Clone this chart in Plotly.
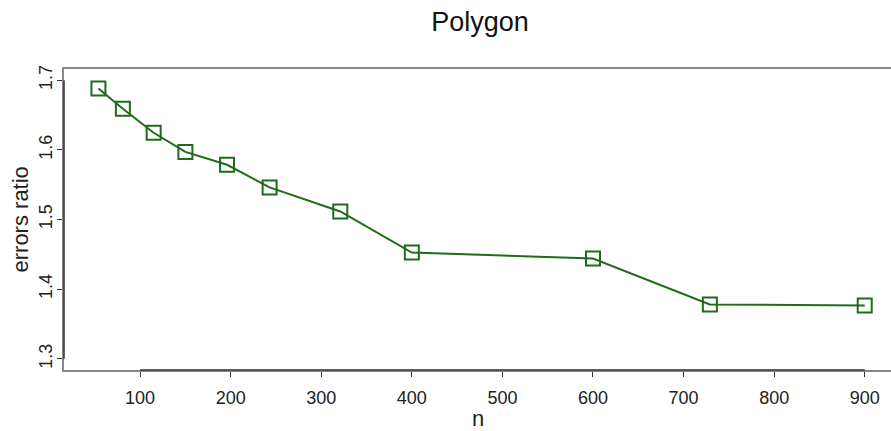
import plotly.graph_objects as go

n_values = [54, 81, 115, 150, 196, 243, 321, 400, 600, 729, 900]
error_ratio = [1.688, 1.659, 1.6245, 1.597, 1.5785, 1.546, 1.5115, 1.4526, 1.444, 1.378, 1.3765]
x_ticks = [100, 200, 300, 400, 500, 600, 700, 800, 900]
y_ticks = [1.3, 1.4, 1.5, 1.6, 1.7]
title_text = "Polygon"
x_label = "n"
y_label = "errors ratio"

green = "#1f6b1a"
font_family = "Liberation Sans, Arial, sans-serif"

fig = go.Figure()
fig.add_trace(go.Scatter(
    x=n_values, y=error_ratio, mode="lines+markers",
    line=dict(color=green, width=2),
    marker=dict(symbol="square-open", size=14, color=green, line=dict(width=2, color=green)),
    showlegend=False,
))

fig.update_layout(
    width=891, height=431,
    margin=dict(l=64, r=0, t=69, b=61, autoexpand=False),
    paper_bgcolor="white", plot_bgcolor="white",
    font=dict(family=font_family, color="#222", size=18),
    title=dict(text=title_text, x=0.5387, xanchor="center", y=0.951, yanchor="middle",
               font=dict(size=27, color="#111")),
    xaxis=dict(
        range=[16, 929], tickvals=x_ticks, ticks="outside", ticklen=5, tickcolor="#333",
        showgrid=False, zeroline=False, showline=True, linecolor="#888", linewidth=1.5,
        mirror=True, automargin=False, ticklabelstandoff=6, tickfont=dict(size=18, color="#222"),
    ),
    yaxis=dict(
        range=[1.284, 1.716], tickvals=y_ticks, ticks="outside", ticklen=5, tickcolor="#333",
        showgrid=False, zeroline=False, showline=True, linecolor="#888", linewidth=1.5,
        automargin=False, tickangle=-90, tickformat=".1f", ticklabelstandoff=-2,
        tickfont=dict(size=18, color="#222"),
    ),
    annotations=[
        dict(text=x_label, xref="paper", yref="paper", x=0.5, y=0, xanchor="center",
             yanchor="middle", yshift=-48, showarrow=False, font=dict(size=22, color="#222")),
        dict(text=y_label, xref="paper", yref="paper", x=0, y=0.5, xanchor="center",
             yanchor="middle", xshift=-44, textangle=-90, showarrow=False,
             font=dict(size=22, color="#222")),
    ],
)

fig.add_shape(type="line", xref="x", yref="paper", x0=x_ticks[0], x1=x_ticks[-1], y0=0, y1=0,
              line=dict(color="#333", width=1.5))
fig.add_shape(type="line", xref="paper", yref="y", x0=0, x1=0, y0=y_ticks[0], y1=y_ticks[-1],
              line=dict(color="#333", width=1.5))

fig.write_html("out.html", config={"displayModeBar": False},
               post_script="document.body.style.margin='0';document.body.style.overflow='hidden';")
